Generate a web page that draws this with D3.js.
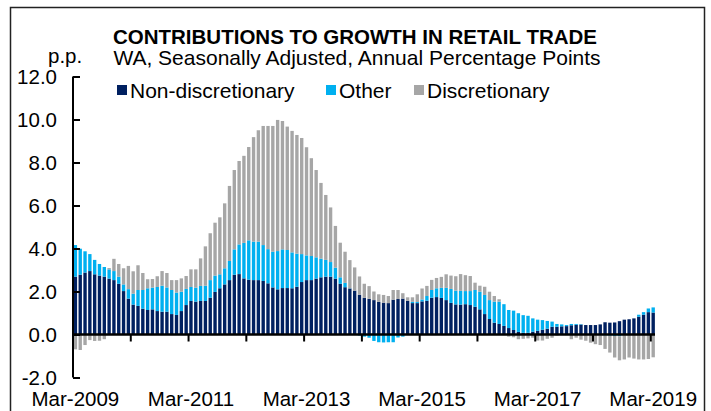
<!DOCTYPE html>
<html>
<head>
<meta charset="utf-8">
<script src="https://cdn.jsdelivr.net/npm/d3@7"></script>
<style>
  body { margin: 0; background: #fff; }
  text { font-family: "Liberation Sans", Arial, sans-serif; fill: #000; }
</style>
</head>
<body>
<div id="chart"></div>
<script>
// series: monthly contributions, Mar-2009 .. Mar-2019 (p.p.)
const nonDiscretionary = [
  2.69, 2.78, 2.88, 2.95, 2.80, 2.74, 2.69, 2.60, 2.53, 2.36, 2.02, 1.67, 1.39, 1.33, 1.20, 1.14, 1.17, 1.09, 1.06, 1.06,
  0.95, 0.91, 1.09, 1.37, 1.56, 1.53, 1.56, 1.56, 1.71, 1.98, 2.15, 2.33, 2.53, 2.78, 2.81, 2.61, 2.55, 2.53, 2.53, 2.49, 2.38,
  2.19, 2.10, 2.16, 2.16, 2.15, 2.22, 2.44, 2.53, 2.53, 2.60, 2.66, 2.69, 2.69, 2.60, 2.36, 2.20, 2.14, 2.04, 1.85, 1.71,
  1.66, 1.60, 1.52, 1.48, 1.46, 1.62, 1.65, 1.67, 1.57, 1.46, 1.46, 1.54, 1.57, 1.71, 1.74, 1.70, 1.60, 1.47, 1.40, 1.39, 1.41,
  1.37, 1.29, 1.17, 0.95, 0.72, 0.55, 0.49, 0.40, 0.30, 0.21, 0.12, 0.08, 0.08, 0.13, 0.17, 0.22, 0.27, 0.36, 0.36, 0.38,
  0.39, 0.43, 0.45, 0.46, 0.44, 0.44, 0.44, 0.47, 0.57, 0.55, 0.56, 0.62, 0.69, 0.71, 0.75, 0.83, 0.92, 1.04, 1.02
];
const other = [
  1.47, 1.21, 0.99, 0.79, 0.67, 0.54, 0.45, 0.43, 0.42, 0.33, 0.31, 0.44, 0.51, 0.74, 0.87, 1.01, 1.01, 1.12, 1.21, 1.13,
  1.12, 1.04, 0.90, 0.75, 0.65, 0.65, 0.70, 0.71, 0.82, 0.76, 0.65, 0.75, 0.89, 1.18, 1.38, 1.65, 1.83, 1.79, 1.79, 1.67, 1.59,
  1.66, 1.78, 1.80, 1.77, 1.67, 1.54, 1.30, 1.15, 1.12, 0.99, 0.87, 0.78, 0.68, 0.51, 0.30, 0.20, 0.01, 0.00, -0.05, -0.10,
  -0.15, -0.30, -0.36, -0.37, -0.36, -0.36, -0.14, -0.10, -0.02, 0.06, 0.05, 0.09, 0.22, 0.36, 0.41, 0.47, 0.57, 0.65, 0.64, 0.64, 0.61,
  0.65, 0.78, 0.82, 0.89, 0.88, 0.98, 1.04, 1.01, 0.84, 0.90, 0.87, 0.82, 0.79, 0.62, 0.52, 0.45, 0.36, 0.24, 0.13, 0.09,
  0.05, 0.06, 0.04, 0.02, 0.00, -0.02, -0.03, -0.04, -0.05, -0.06, -0.07, -0.08, -0.03, -0.02, 0.00, 0.09, 0.12, 0.17, 0.24
];
const discretionary = [
  -0.69, -0.72, -0.49, -0.26, -0.30, -0.29, -0.22, 0.06, 0.57, 0.59, 0.75, 1.08, 1.04, 1.15, 0.79, 0.42, 0.40, 0.50, 0.68, 0.67,
  0.46, 0.58, 0.62, 0.60, 0.82, 0.85, 1.28, 1.83, 2.18, 2.46, 2.65, 3.02, 3.49, 3.69, 3.88, 4.05, 4.34, 4.86, 5.18, 5.54, 5.73,
  5.85, 6.10, 5.97, 5.74, 5.65, 5.52, 5.40, 5.03, 4.55, 4.06, 3.52, 3.02, 2.54, 1.94, 1.61, 1.45, 1.31, 1.08, 0.85, 0.65,
  0.59, 0.40, 0.35, 0.36, 0.33, 0.45, 0.42, 0.25, 0.16, 0.21, 0.36, 0.51, 0.47, 0.47, 0.48, 0.51, 0.63, 0.62, 0.67, 0.78, 0.74,
  0.70, 0.34, 0.28, 0.38, 0.39, 0.26, 0.11, -0.03, -0.10, -0.13, -0.22, -0.20, -0.18, -0.15, -0.28, -0.28, -0.20, -0.15, -0.05, -0.02,
  -0.03, -0.22, -0.15, -0.24, -0.29, -0.36, -0.42, -0.45, -0.62, -0.78, -1.00, -1.12, -1.13, -1.05, -1.12, -1.16, -1.16, -1.14, -1.06
];

const seriesNames = ["Non-discretionary", "Other", "Discretionary"];
const colors = ["#002060", "#00B0F0", "#A6A6A6"];
const yTicks = [-2, 0, 2, 4, 6, 8, 10, 12];
const xLabelYears = [2009, 2011, 2013, 2015, 2017, 2019];

// months as categories
const fmt = d3.timeFormat("%b-%Y");
const months = d3.timeMonth.range(new Date(2009, 2, 1), new Date(2019, 3, 1)).map(fmt);

const data = months.map((m, i) => ({
  month: m,
  "Non-discretionary": nonDiscretionary[i],
  "Other": other[i],
  "Discretionary": discretionary[i]
}));

const W = 711, H = 411;

const svg = d3.select("#chart").append("svg")
  .attr("width", W)
  .attr("height", H);

svg.append("rect").attr("width", W).attr("height", H).attr("fill", "#fff");

// frame
svg.append("rect")
  .attr("x", 10.5).attr("y", 7.5)
  .attr("width", 694).attr("height", 430)
  .attr("fill", "none")
  .attr("stroke", "#222")
  .attr("stroke-width", 1.5);

// scales
const x = d3.scaleBand()
  .domain(months)
  .range([73, 655.6])
  .paddingInner(0.3)
  .paddingOuter(0.15);

const y = d3.scaleLinear()
  .domain([-2, 12])
  .range([377.5, 76.5]);

// stacked series, negatives stacked below zero
const stacked = d3.stack()
  .keys(seriesNames)
  .offset(d3.stackOffsetDiverging)(data);

svg.append("g")
  .selectAll("g")
  .data(stacked)
  .join("g")
    .attr("fill", (d, i) => colors[i])
  .selectAll("rect")
  .data(d => d)
  .join("rect")
    .attr("x", d => x(d.data.month))
    .attr("width", x.bandwidth())
    .attr("y", d => y(Math.max(d[0], d[1])))
    .attr("height", d => Math.abs(y(d[0]) - y(d[1])));

// y axis (ticks point inward)
const yAxis = svg.append("g")
  .attr("transform", "translate(73,0)")
  .call(d3.axisRight(y).tickValues(yTicks).tickSize(7).tickFormat(""));
yAxis.select(".domain").attr("d", `M0,${y(12)}V${y(-2)}`);
yAxis.selectAll("line, path").attr("stroke", "#000").attr("stroke-width", 2);

svg.append("g")
  .selectAll("text")
  .data(yTicks)
  .join("text")
    .attr("x", 57)
    .attr("y", d => y(d))
    .attr("dy", "0.36em")
    .attr("text-anchor", "end")
    .attr("font-size", 20.5)
    .text(d => d.toFixed(1));

// x axis along zero, tick every March
const marchTicks = months.filter(m => m.startsWith("Mar") && m !== "Mar-2009");
svg.append("g")
  .selectAll("line")
  .data(marchTicks)
  .join("line")
    .attr("x1", d => x(d) - x.step() * x.paddingInner() / 2)
    .attr("x2", d => x(d) - x.step() * x.paddingInner() / 2)
    .attr("y1", y(0))
    .attr("y2", y(0) + 7)
    .attr("stroke", "#000")
    .attr("stroke-width", 2);

svg.append("line")
  .attr("x1", 73).attr("x2", 655)
  .attr("y1", y(0)).attr("y2", y(0))
  .attr("stroke", "#000")
  .attr("stroke-width", 2.5);

svg.append("g")
  .selectAll("text")
  .data(xLabelYears)
  .join("text")
    .attr("x", d => x("Mar-" + d) + x.bandwidth() / 2)
    .attr("y", 406)
    .attr("text-anchor", "middle")
    .attr("font-size", 20.5)
    .text(d => "Mar-" + d);

// titles
svg.append("text")
  .attr("x", 355).attr("y", 44)
  .attr("text-anchor", "middle")
  .attr("font-size", 20.5)
  .attr("font-weight", "bold")
  .text("CONTRIBUTIONS TO GROWTH IN RETAIL TRADE");

svg.append("text")
  .attr("x", 357).attr("y", 65)
  .attr("text-anchor", "middle")
  .attr("font-size", 21)
  .text("WA, Seasonally Adjusted, Annual Percentage Points");

svg.append("text")
  .attr("x", 48).attr("y", 63)
  .attr("font-size", 20.5)
  .text("p.p.");

// legend
const legendX = [117, 326, 414];
const legend = svg.append("g")
  .selectAll("g")
  .data(seriesNames)
  .join("g")
    .attr("transform", (d, i) => `translate(${legendX[i]},85)`);
legend.append("rect")
  .attr("width", 10).attr("height", 10)
  .attr("fill", (d, i) => colors[i]);
legend.append("text")
  .attr("x", 13).attr("y", 12.5)
  .attr("font-size", 21)
  .text(d => d);
</script>
</body>
</html>
